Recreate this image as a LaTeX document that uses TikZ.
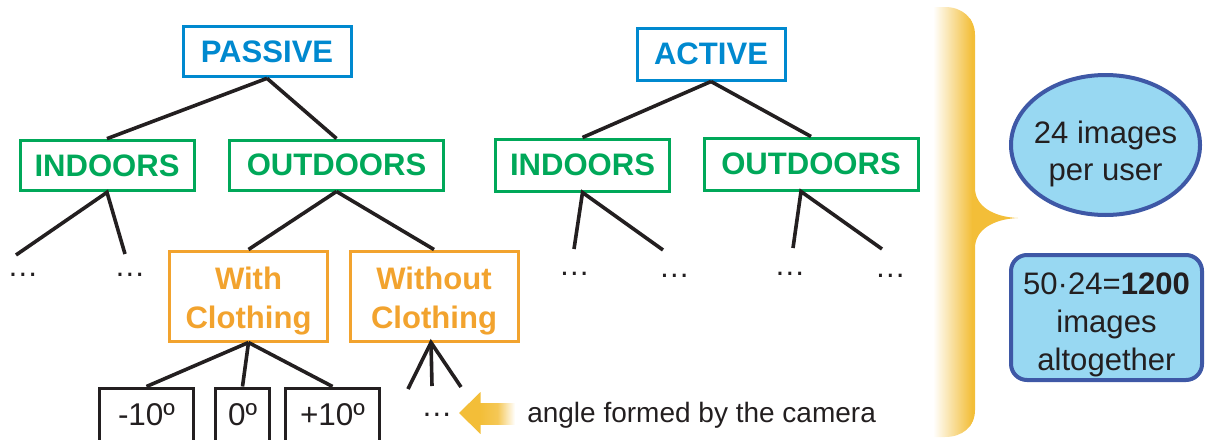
\documentclass[tikz,border=0pt]{standalone}
\usepackage{fontspec}
\setmainfont{Liberation Sans}
\usetikzlibrary{shapes.geometric}
\definecolor{ink}{RGB}{35,31,32}
\definecolor{tblue}{RGB}{0,137,207}
\definecolor{tgreen}{RGB}{0,168,89}
\definecolor{torange}{RGB}{242,163,46}
\definecolor{braceyel}{RGB}{243,190,56}
\definecolor{pfill}{RGB}{152,216,242}
\definecolor{pblue}{RGB}{62,88,166}
\begin{document}
\begin{tikzpicture}[x=0.75pt,y=-0.75pt,
  box/.style={draw, line width=2.25pt, inner sep=0pt, align=center,
    font=\fontsize{23.3}{29}\selectfont\bfseries},
  rootbox/.style={box, draw=tblue, text=tblue},
  placebox/.style={box, draw=tgreen, text=tgreen},
  clothbox/.style={box, draw=torange, text=torange,
    font=\fontsize{23.3}{29.5}\selectfont\bfseries},
  anglebox/.style={draw=ink, line width=2.25pt, inner sep=0pt, text=ink,
    minimum height=42pt, text height=14pt, text depth=0pt,
    font=\fontsize{23.6}{28}\selectfont},
  conn/.style={draw=ink, line width=2.7pt},
  more/.style={text=ink, inner sep=0pt, anchor=base,
    font=\fontsize{23.3}{28}\selectfont},
  panel/.style={draw=pblue, fill=pfill, line width=3pt, inner sep=0pt},
  paneltext/.style={text=ink, align=center, inner sep=0pt},
]
\useasboundingbox (0,0) rectangle (1205,439);

% ---- category tree: roots ----
\node[rootbox, minimum width=126pt, minimum height=38pt] (passive) at (267,51.5) {PASSIVE};
\node[rootbox, minimum width=111pt, minimum height=39pt] (active) at (711,54) {ACTIVE};

% ---- location level ----
\node[placebox, minimum width=130.5pt, minimum height=38pt] (inL) at (107,165.5) {INDOORS};
\node[placebox, minimum width=161pt, minimum height=37.5pt] (outL) at (336.5,165) {OUTDOORS};
\node[placebox, minimum width=131pt, minimum height=39pt] (inR) at (582.5,165) {INDOORS};
\node[placebox, minimum width=160.5pt, minimum height=39pt] (outR) at (811,164) {OUTDOORS};

% ---- clothing level (strut on the first line lowers the two lines a little) ----
\node[clothbox, minimum width=119pt, minimum height=67.5pt] (withC) at (248.5,296) {\rule{0pt}{24pt}With\\Clothing};
\node[clothbox, minimum width=126pt, minimum height=67.5pt] (woC) at (434,296) {\rule{0pt}{24pt}Without\\Clothing};

% ---- camera angle level ----
\node[anglebox, minimum width=71pt] (angM) at (146.5,416) {-10º};
\node[anglebox, minimum width=41pt] (ang0) at (242.5,416) {0º};
\node[anglebox, minimum width=71pt] (angP) at (332.5,416) {+10º};

% ---- connectors ----
\draw[conn] (passive.south) -- (inL.north);
\draw[conn] (passive.south) -- (outL.north);
\draw[conn] (active.south) -- (inR.north);
\draw[conn] (active.south) -- (outR.north);
\draw[conn] (outL.south) -- (withC.north);
\draw[conn] (outL.south) -- (woC.north);
\draw[conn] (withC.south) -- (angM.north);
\draw[conn] (withC.south) -- (ang0.north);
\draw[conn] (withC.south) -- (angP.north);

% open branches
\coordinate (inLa) at (16,255);
\coordinate (inLb) at (125,254);
\coordinate (inRa) at (574,249);
\coordinate (inRb) at (663,250);
\coordinate (outRa) at (793,248);
\coordinate (outRb) at (882,249);
\coordinate (woCa) at (408,389);
\coordinate (woCb) at (432,386);
\coordinate (woCc) at (461,387);
\draw[conn] (inLa) -- (inL.south) -- (inLb);
\draw[conn] (inRa) -- (inR.south) -- (inRb);
\draw[conn] (outRa) -- ([xshift=-7.5pt]outR.south) -- (outRb);
\draw[conn] (woCa) -- ([xshift=-2.25pt]woC.south) -- (woCc);
\draw[conn] ([xshift=-2.25pt]woC.south) -- (woCb);

\node[more] (dotsA) at (23,276) {…};
\node[more] (dotsB) at (130,276) {…};
\node[more] (dotsC) at (574.5,275) {…};
\node[more] (dotsD) at (674.5,277) {…};
\node[more] (dotsE) at (790,275) {…};
\node[more] (dotsF) at (890.5,277) {…};
\node[more] (dotsG) at (437,416) {…};

% ---- pointer to the camera-angle note ----
\fill[braceyel] (459,413) -- (480.5,392) -- (480.5,434) -- cycle;
\shade[left color=braceyel, right color=white, middle color=braceyel!85!white]
  (480,403) rectangle (515,424);
\node[text=ink, inner sep=0pt, anchor=base west, font=\fontsize{21}{25}\selectfont]
  (angleNote) at (527,422) {angle formed by the camera};

% ---- brace ----
\begin{scope}
\clip (933,7) -- (945,7) .. controls (962,7) and (975,18) .. (975,35)
  -- (975,188) .. controls (975,206) and (993,217) .. (1018,218)
  .. controls (993,219) and (975,230) .. (975,248)
  -- (975,410) .. controls (975,427) and (962,437) .. (945,437)
  -- (933,437) -- cycle;
\fill[braceyel] (970,0) rectangle (1020,439);
\shade[left color=white, right color=braceyel] (933,0) rectangle (972,439);
\end{scope}

% ---- totals ----
\node[panel, ellipse, minimum width=141.75pt, minimum height=105pt] (perUser) at (1105.5,145) {};
\node[paneltext, font=\fontsize{23.3}{27.75}\selectfont] (perUserText) at (1105.5,153.5) {24 images\\per user};
\node[panel, rounded corners=12pt, minimum width=143.25pt, minimum height=93.75pt] (total) at (1106.5,317.5) {};
\node[paneltext, font=\fontsize{23.3}{28.6}\selectfont] (totalText) at (1106.5,325) {50·24=\textbf{1200}\\images\\altogether};
\end{tikzpicture}
\end{document}
